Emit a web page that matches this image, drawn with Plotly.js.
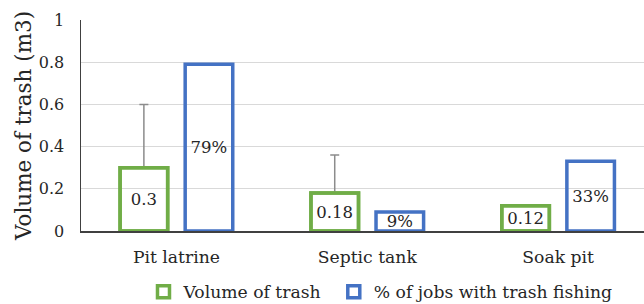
<!DOCTYPE html>
<html><head><meta charset="utf-8">
<script src="https://cdn.plot.ly/plotly-3.0.1.min.js"></script>
<style>html,body{margin:0;padding:0;background:#fff}#chart{width:644px;height:304px}</style>
</head><body><div id="chart"></div>
<script>
const categories = ['Pit latrine', 'Septic tank', 'Soak pit'];
const volume = [0.3, 0.18, 0.12];
const volumeErrUp = [0.3, 0.18, null];
const volumeErrDown = [0, 0, null];
const jobsShare = [0.79, 0.09, 0.33];
const volumeLabels = ['0.3', '0.18', '0.12'];
const jobsLabels = ['79%', '9%', '33%'];
const yTicks = [0, 0.2, 0.4, 0.6, 0.8, 1];
const yTickLabels = ['0', '0.2', '0.4', '0.6', '0.8', '1'];

const GREEN = '#70AD47', BLUE = '#4472C4';
const FONT = 'DejaVu Serif, Liberation Serif, serif';
const TXT = '#262626';

const traces = [
  { // error bars (their base cap is covered by the overlay below)
    type: 'bar', x: categories, y: volume, offsetgroup: 'v', showlegend: false,
    marker: { color: 'rgba(0,0,0,0)', line: { color: GREEN, width: 3.5 } },
    error_y: { type: 'data', symmetric: false, array: volumeErrUp, arrayminus: volumeErrDown,
               color: '#8c8c8c', thickness: 1.5, width: 4.5 },
    hoverinfo: 'skip'
  },
  {
    type: 'bar', name: 'Volume of trash', x: categories, y: volume, offsetgroup: 'v',
    legend: 'legend',
    marker: { color: 'rgba(0,0,0,0)', line: { color: GREEN, width: 3.5 } },
    text: volumeLabels, textposition: 'inside', insidetextanchor: 'middle', textangle: 0,
    constraintext: 'none', cliponaxis: false,
    insidetextfont: { family: FONT, size: 16.5, color: TXT }, hoverinfo: 'skip'
  },
  {
    type: 'bar', name: '% of jobs with trash fishing', x: categories, y: jobsShare, offsetgroup: 'j',
    legend: 'legend2',
    marker: { color: 'rgba(0,0,0,0)', line: { color: BLUE, width: 3.5 } },
    text: jobsLabels, textposition: 'inside', insidetextanchor: 'middle', textangle: 0,
    constraintext: 'none', cliponaxis: false,
    insidetextfont: { family: FONT, size: 16.5, color: TXT }, hoverinfo: 'skip'
  }
];

const legendBase = {
  orientation: 'h', xanchor: 'left', y: -0.289, yanchor: 'middle',
  font: { family: FONT, size: 17.2, color: TXT }, bgcolor: 'rgba(0,0,0,0)'
};

const layout = {
  width: 644, height: 304,
  margin: { l: 81, r: 0, t: 20, b: 73, autoexpand: false },
  paper_bgcolor: '#fff', plot_bgcolor: '#fff',
  barmode: 'group', bargap: 0.318, bargroupgap: 0.269,
  font: { family: FONT, size: 17, color: TXT },
  xaxis: {
    type: 'category', range: [-0.5, 2.45], showline: true, linecolor: '#404040', linewidth: 1.5,
    ticks: '', showgrid: false, zeroline: false, ticklabelstandoff: 10,
    tickfont: { family: FONT, size: 17.2, color: TXT }, automargin: false
  },
  yaxis: {
    range: [0, 1], tickvals: yTicks, ticktext: yTickLabels, showgrid: true, gridcolor: '#d9d9d9',
    gridwidth: 1, showline: true, linecolor: '#404040', linewidth: 1.5, zeroline: false, ticks: '',
    ticklabelstandoff: 12, tickfont: { family: FONT, size: 16, color: TXT }, automargin: false,
    title: { text: 'Volume of trash (m3)', font: { family: FONT, size: 21.5, color: TXT }, standoff: 1 }
  },
  legend: Object.assign({}, legendBase, { x: 0.111 }),
  legend2: Object.assign({}, legendBase, { x: 0.449 }),
  showlegend: true
};

Plotly.newPlot('chart', traces, layout, { displayModeBar: false, staticPlot: true });
</script></body></html>
